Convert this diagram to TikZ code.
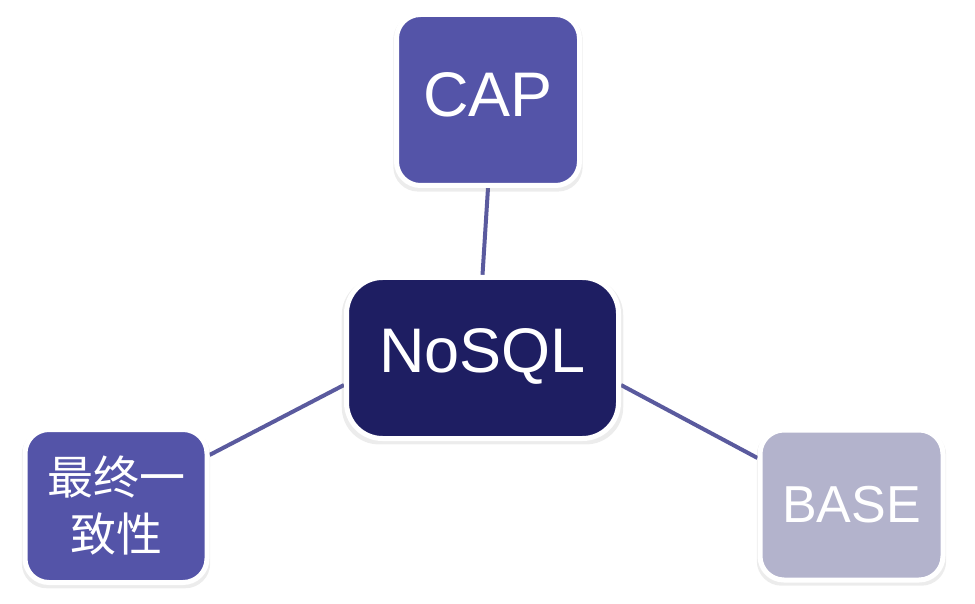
\documentclass[tikz,border=0pt]{standalone}
\usepackage{fontspec}
\setmainfont{Liberation Sans}
\newfontfamily\cjk{Noto Sans CJK SC}
\usetikzlibrary{shadows,backgrounds}
\definecolor{capblue}{HTML}{5454A8}
\definecolor{nosqlnavy}{HTML}{1E1E62}
\definecolor{basegray}{HTML}{B3B3CC}
\definecolor{linkblue}{HTML}{5A5A9E}

\begin{document}
\begin{tikzpicture}[x=1pt,y=-1pt,
  box/.style={rectangle, rounded corners=24pt, draw=white, line width=5pt,
    text=white, align=center, inner sep=0pt,
    drop shadow={opacity=0.15, shadow xshift=0pt, shadow yshift=-3pt, shadow scale=1.035}},
  link/.style={draw=linkblue, line width=4pt}]
\useasboundingbox (0,0) rectangle (975,604);

\node[box, fill=capblue, minimum width=183pt, minimum height=171pt,
  text height=45pt, text depth=11pt, font=\fontsize{63}{70}\selectfont] (cap) at (488,100) {CAP};
\node[box, fill=nosqlnavy, rounded corners=36pt, minimum width=272pt, minimum height=161pt,
  text height=45pt, text depth=16pt, font=\fontsize{63}{70}\selectfont] (nosql) at (482.5,358) {NoSQL};
\node[box, fill=capblue, minimum width=182pt, minimum height=153pt,
  font={\cjk\fontsize{46}{57}\selectfont}] (eventual) at (116,506) {最终一\\致性};
\node[box, fill=basegray, minimum width=183pt, minimum height=150pt,
  font=\fontsize{52}{60}\selectfont] (base) at (851.5,505) {BASE};

\begin{scope}[on background layer]
\draw[link] (cap.south) -- (nosql.north);
\draw[link] ([yshift=-27pt]nosql.west) -- ([yshift=51pt]eventual.east);
\draw[link] ([yshift=-27pt]nosql.east) -- ([yshift=47pt]base.west);
\end{scope}
\end{tikzpicture}
\end{document}
